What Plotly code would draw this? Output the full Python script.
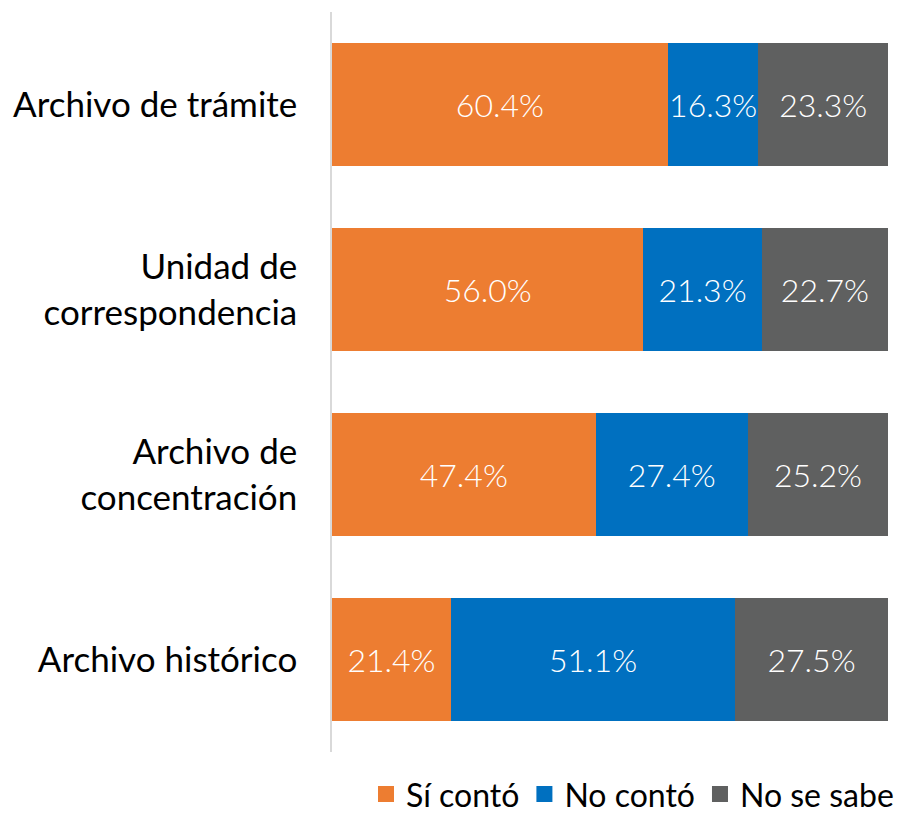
import plotly.graph_objects as go

categories = ["Archivo de trámite", "Unidad de<br>correspondencia", "Archivo de<br>concentración", "Archivo histórico"]
si_conto = [60.4, 56.0, 47.4, 21.4]
no_conto = [16.3, 21.3, 27.4, 51.1]
no_se_sabe = [23.3, 22.7, 25.2, 27.5]
series = [("Sí contó", si_conto, "#ED7D31"), ("No contó", no_conto, "#0070C0"), ("No se sabe", no_se_sabe, "#5F6060")]

fig = go.Figure()
for name, vals, color in series:
    fig.add_trace(go.Bar(
        y=categories, x=vals, name=name, orientation="h",
        marker=dict(color=color, line=dict(width=0)),
        text=[f"{v:.1f}%" for v in vals], textposition="inside", insidetextanchor="middle",
        textangle=0,
        textfont=dict(color="white", size=32, family="Lato", weight=300),
        constraintext="none", showlegend=False, cliponaxis=False,
    ))
# legend entries with larger square swatches
for name, vals, color in series:
    fig.add_trace(go.Scatter(
        x=[None], y=[None], mode="markers", name=name,
        marker=dict(symbol="square", size=16, color=color),
    ))

fig.update_layout(
    barmode="stack", bargap=0.335,
    width=899, height=814,
    margin=dict(l=332, r=11, t=12, b=62, autoexpand=False),
    plot_bgcolor="white", paper_bgcolor="white",
    font=dict(family="Lato", color="black"),
    xaxis=dict(range=[0, 100], visible=False),
    yaxis=dict(autorange="reversed", showline=True, linecolor="#d9d9d9", linewidth=1.5,
               tickfont=dict(size=35, color="black"), ticks="", ticklabelstandoff=26,
               automargin=False),
    legend=dict(orientation="h", xref="container", yref="paper",
                x=1.0, xanchor="right", y=-0.02, yanchor="top",
                font=dict(size=32, color="black"), traceorder="normal",
                itemsizing="trace", itemwidth=30),
    showlegend=True,
)
fig.write_html("out.html", config={"displayModeBar": False},
               post_script="document.body.style.margin='0';document.body.style.overflow='hidden';")
